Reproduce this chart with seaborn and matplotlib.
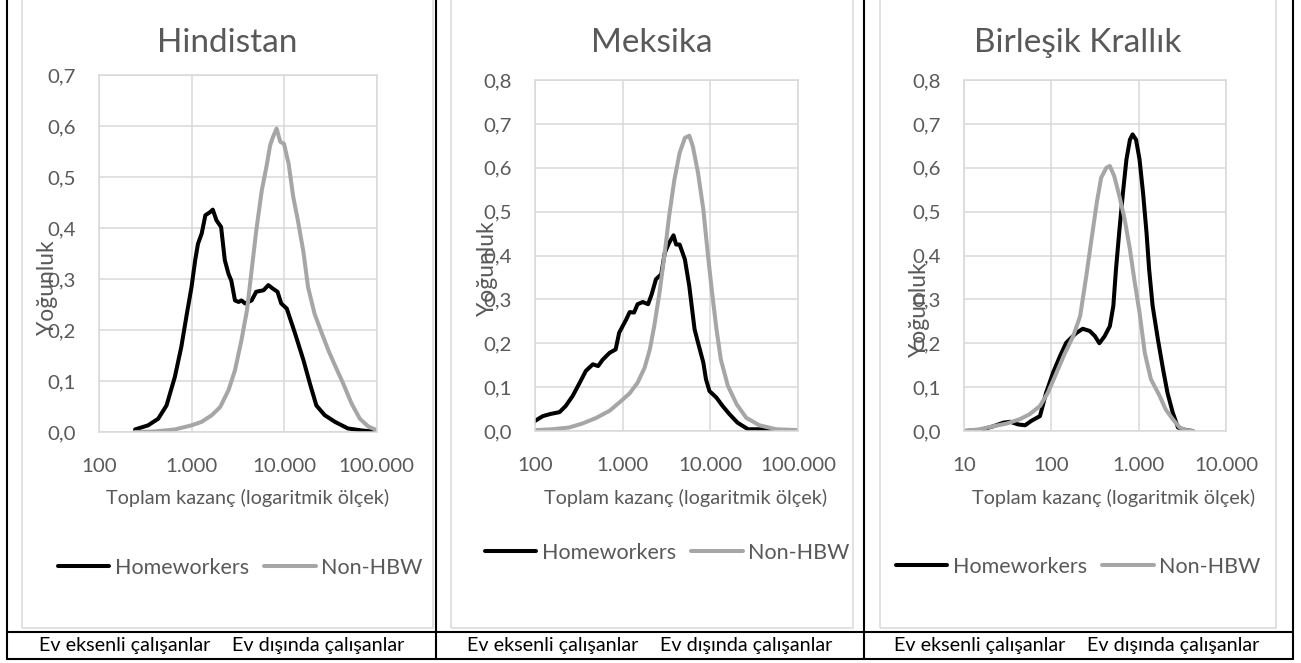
import numpy as np
import pandas as pd
import matplotlib
matplotlib.use('Agg')
import matplotlib.pyplot as plt
import seaborn as sns
from matplotlib.lines import Line2D
from matplotlib.patches import Rectangle
from matplotlib.ticker import FuncFormatter, NullLocator

# ── Data (x = log10 of total earnings) ────────────────────────────────────────
GROUPS = ['Homeworkers', 'Non-HBW']
TABLE_LABELS = ['Ev eksenli çalışanlar', 'Ev dışında çalışanlar']

IND_HBW_LOGX = [2.39, 2.53, 2.64, 2.73, 2.82, 2.89, 2.95, 3.00, 3.04, 3.07, 3.11, 3.15,
                3.20, 3.23, 3.27, 3.32, 3.36, 3.40, 3.43, 3.47, 3.51, 3.54, 3.58, 3.65,
                3.70, 3.78, 3.83, 3.88, 3.93, 3.97, 4.03, 4.12, 4.21, 4.28, 4.35, 4.44,
                4.55, 4.69, 4.84, 5.01]
IND_HBW_Y = [0.005, 0.013, 0.026, 0.052, 0.108, 0.167, 0.232, 0.284, 0.337, 0.369, 0.389, 0.425,
             0.431, 0.436, 0.415, 0.402, 0.337, 0.310, 0.297, 0.258, 0.255, 0.258, 0.252, 0.258,
             0.275, 0.278, 0.288, 0.281, 0.275, 0.252, 0.242, 0.193, 0.141, 0.095, 0.052, 0.033,
             0.020, 0.007, 0.003, 0.000]
IND_NON_LOGX = [2.39, 2.60, 2.82, 3.00, 3.11, 3.22, 3.31, 3.40, 3.47, 3.54, 3.60, 3.65,
                3.70, 3.76, 3.81, 3.85, 3.88, 3.92, 3.96, 4.00, 4.05, 4.10, 4.15, 4.21,
                4.26, 4.33, 4.41, 4.48, 4.55, 4.64, 4.73, 4.82, 4.91, 5.01]
IND_NON_Y = [0.000, 0.001, 0.005, 0.013, 0.020, 0.033, 0.049, 0.082, 0.121, 0.180, 0.239, 0.317,
             0.395, 0.474, 0.520, 0.562, 0.578, 0.595, 0.569, 0.565, 0.526, 0.461, 0.415, 0.353,
             0.284, 0.232, 0.193, 0.160, 0.131, 0.095, 0.056, 0.026, 0.011, 0.003]

MEX_HBW_LOGX = [2.00, 2.09, 2.18, 2.28, 2.35, 2.43, 2.51, 2.58, 2.66, 2.72, 2.77, 2.85,
                2.92, 2.96, 3.04, 3.08, 3.13, 3.17, 3.23, 3.29, 3.33, 3.38, 3.44, 3.48,
                3.53, 3.58, 3.61, 3.65, 3.71, 3.76, 3.82, 3.86, 3.92, 3.95, 3.99, 4.07,
                4.14, 4.22, 4.31, 4.43, 4.60, 4.83, 5.00]
MEX_HBW_Y = [0.023, 0.034, 0.039, 0.043, 0.057, 0.080, 0.110, 0.137, 0.152, 0.148, 0.162, 0.178,
             0.186, 0.224, 0.254, 0.271, 0.270, 0.289, 0.294, 0.289, 0.311, 0.346, 0.357, 0.406,
             0.429, 0.446, 0.425, 0.425, 0.391, 0.330, 0.232, 0.201, 0.156, 0.118, 0.091, 0.076,
             0.057, 0.038, 0.019, 0.004, 0.004, 0.000, 0.000]
MEX_NON_LOGX = [2.00, 2.20, 2.39, 2.54, 2.70, 2.85, 2.98, 3.08, 3.17, 3.25, 3.31, 3.36,
                3.42, 3.48, 3.53, 3.59, 3.65, 3.71, 3.76, 3.80, 3.86, 3.92, 3.97, 4.02,
                4.07, 4.12, 4.20, 4.30, 4.41, 4.56, 4.75, 5.00]
MEX_NON_Y = [0.002, 0.004, 0.008, 0.017, 0.030, 0.046, 0.068, 0.086, 0.110, 0.144, 0.186, 0.239,
             0.315, 0.406, 0.490, 0.573, 0.634, 0.668, 0.673, 0.649, 0.588, 0.505, 0.406, 0.315,
             0.232, 0.163, 0.103, 0.061, 0.030, 0.013, 0.004, 0.002]

GBR_HBW_LOGX = [1.00, 1.18, 1.34, 1.45, 1.53, 1.62, 1.70, 1.77, 1.87, 1.94, 2.02, 2.10,
                2.17, 2.23, 2.29, 2.36, 2.44, 2.50, 2.55, 2.61, 2.67, 2.71, 2.74, 2.78,
                2.82, 2.86, 2.90, 2.93, 2.97, 3.01, 3.05, 3.09, 3.12, 3.16, 3.22, 3.28,
                3.33, 3.39, 3.45, 3.54, 3.62]
GBR_HBW_Y = [0.000, 0.002, 0.011, 0.019, 0.021, 0.015, 0.013, 0.023, 0.034, 0.087, 0.133, 0.171,
             0.201, 0.213, 0.224, 0.233, 0.228, 0.216, 0.200, 0.216, 0.239, 0.285, 0.368, 0.459,
             0.543, 0.619, 0.664, 0.676, 0.664, 0.619, 0.543, 0.452, 0.368, 0.285, 0.209, 0.140,
             0.087, 0.042, 0.008, 0.002, 0.000]
GBR_NON_LOGX = [1.00, 1.18, 1.34, 1.49, 1.64, 1.75, 1.87, 1.96, 2.06, 2.15, 2.25, 2.33,
                2.40, 2.46, 2.52, 2.57, 2.63, 2.67, 2.72, 2.78, 2.84, 2.90, 2.95, 3.01,
                3.07, 3.14, 3.24, 3.31, 3.39, 3.47, 3.54, 3.62]
GBR_NON_Y = [0.000, 0.004, 0.011, 0.017, 0.027, 0.038, 0.057, 0.087, 0.133, 0.175, 0.216, 0.262,
             0.353, 0.437, 0.520, 0.577, 0.600, 0.604, 0.581, 0.535, 0.482, 0.414, 0.345, 0.270,
             0.178, 0.118, 0.080, 0.049, 0.027, 0.008, 0.002, 0.000]

# ── Style / layout constants (pixel positions in a 1301x663 canvas) ──────────
W, H = 1301, 663
TEXT_GREY = '#595959'
GRID_GREY = '#d9d9d9'
PALETTE = {'Homeworkers': '#000000', 'Non-HBW': '#a6a6a6'}

PANELS = [
    dict(title='Hindistan', xlim=(100, 100000), ymax=0.7,
         plot=(99, 376.5, 75, 432), box=(22, 433),
         ylabel_xy=(47, 288), legend_xy=(240, 568), xlabel_x=248,
         table_x=(125, 318),
         data=(IND_HBW_LOGX, IND_HBW_Y, IND_NON_LOGX, IND_NON_Y)),
    dict(title='Meksika', xlim=(100, 100000), ymax=0.8,
         plot=(535, 798, 80, 431), box=(451, 853),
         ylabel_xy=(487, 269), legend_xy=(667, 553), xlabel_x=686,
         table_x=(553, 746),
         data=(MEX_HBW_LOGX, MEX_HBW_Y, MEX_NON_LOGX, MEX_NON_Y)),
    dict(title='Birleşik Krallık', xlim=(10, 10000), ymax=0.8,
         plot=(964, 1226, 80, 431), box=(880, 1276),
         ylabel_xy=(919, 310), legend_xy=(1078, 567), xlabel_x=1114,
         table_x=(980, 1173),
         data=(GBR_HBW_LOGX, GBR_HBW_Y, GBR_NON_LOGX, GBR_NON_Y)),
]


def fx(px):
    return px / W


def fy(py):
    return 1 - py / H


def thousands(v, _pos):
    return f'{int(round(v)):,}'.replace(',', '.')


def one_decimal(v, _pos):
    return f'{v:.1f}'.replace('.', ',')


def build_frame(hbw_x, hbw_y, non_x, non_y):
    parts = []
    for name, lx, yy in zip(GROUPS, (hbw_x, non_x), (hbw_y, non_y)):
        parts.append(pd.DataFrame({'kazanc': np.power(10.0, lx), 'yogunluk': yy, 'grup': name}))
    return pd.concat(parts, ignore_index=True)


def draw_panel(fig, spec):
    left, right, top, bottom = spec['plot']
    ax = fig.add_axes([fx(left), fy(bottom), fx(right - left), (bottom - top) / H])

    df = build_frame(*spec['data'])
    sns.lineplot(data=df, x='kazanc', y='yogunluk', hue='grup', hue_order=GROUPS,
                 palette=PALETTE, estimator=None, sort=False, lw=2.9, ax=ax)

    ax.set_xscale('log')
    ax.set_xlim(*spec['xlim'])
    lo, hi = spec['xlim']
    ax.set_xticks([t for t in (10, 100, 1000, 10000, 100000) if lo <= t <= hi])
    ax.xaxis.set_minor_locator(NullLocator())
    ax.xaxis.set_major_formatter(FuncFormatter(thousands))
    ax.set_ylim(0, spec['ymax'])
    ax.set_yticks(np.arange(0, spec['ymax'] + 0.001, 0.1))
    ax.yaxis.set_major_formatter(FuncFormatter(one_decimal))

    ax.grid(True, color=GRID_GREY, lw=1.1)
    ax.set_axisbelow(True)
    for s in ax.spines.values():
        s.set_color(GRID_GREY)
        s.set_linewidth(1.1)

    ax.tick_params(axis='x', direction='out', length=5, width=1.1, color=GRID_GREY,
                   labelcolor=TEXT_GREY, labelsize=14.7, pad=13.5)
    ax.tick_params(axis='y', length=0, labelcolor=TEXT_GREY, labelsize=14.7, pad=16.5)

    ax.set_ylabel('')
    ax.set_xlabel('Toplam kazanç (logaritmik ölçek)', color=TEXT_GREY, fontsize=14.3)
    ax.xaxis.set_label_coords((spec['xlabel_x'] - left) / (right - left),
                              (bottom - 498) / (bottom - top))
    ax.xaxis.label.set_va('center')

    fig.text(fx(spec['ylabel_xy'][0]), fy(spec['ylabel_xy'][1]), 'Yoğunluk', rotation=90,
             ha='center', va='center', color=TEXT_GREY, fontsize=16.5)

    bx0, bx1 = spec['box']
    fig.text(fx((bx0 + bx1) / 2), fy(43), spec['title'], ha='center', va='center',
             color=TEXT_GREY, fontsize=24)

    handles, labels = ax.get_legend_handles_labels()
    ax.legend(handles, labels, loc='center', ncol=2, frameon=False,
              bbox_to_anchor=(fx(spec['legend_xy'][0]), fy(spec['legend_xy'][1])),
              bbox_transform=fig.transFigure, fontsize=15.5, labelcolor=TEXT_GREY,
              handlelength=2.4, handletextpad=0.25, columnspacing=0.7, borderaxespad=0)

    # light grey chart-area frame
    fig.add_artist(Rectangle((fx(bx0), fy(628)), fx(bx1 - bx0), fy(-4) - fy(628),
                             transform=fig.transFigure, fill=False, ec=GRID_GREY, lw=1.1))

    # table row below the chart
    for tx, txt in zip(spec['table_x'], TABLE_LABELS):
        fig.text(fx(tx), fy(645), txt, ha='center', va='center', color='black', fontsize=14.2)


def main():
    sns.set_theme(style='white')
    plt.rcParams['font.family'] = ['Lato', 'DejaVu Sans']

    fig = plt.figure(figsize=(W / 100, H / 100), dpi=100)
    fig.patch.set_facecolor('white')

    for spec in PANELS:
        draw_panel(fig, spec)

    # black table lines
    for xpos in (7, 436, 864, 1293):
        fig.add_artist(Line2D([fx(xpos)] * 2, [fy(-2), fy(659)], transform=fig.transFigure,
                              color='black', lw=1.5))
    for ypos in (632, 659):
        fig.add_artist(Line2D([fx(7), fx(1293)], [fy(ypos)] * 2, transform=fig.transFigure,
                              color='black', lw=1.5))

    fig.savefig('out.png', dpi=100, facecolor='white')
    plt.close(fig)


if __name__ == '__main__':
    main()
